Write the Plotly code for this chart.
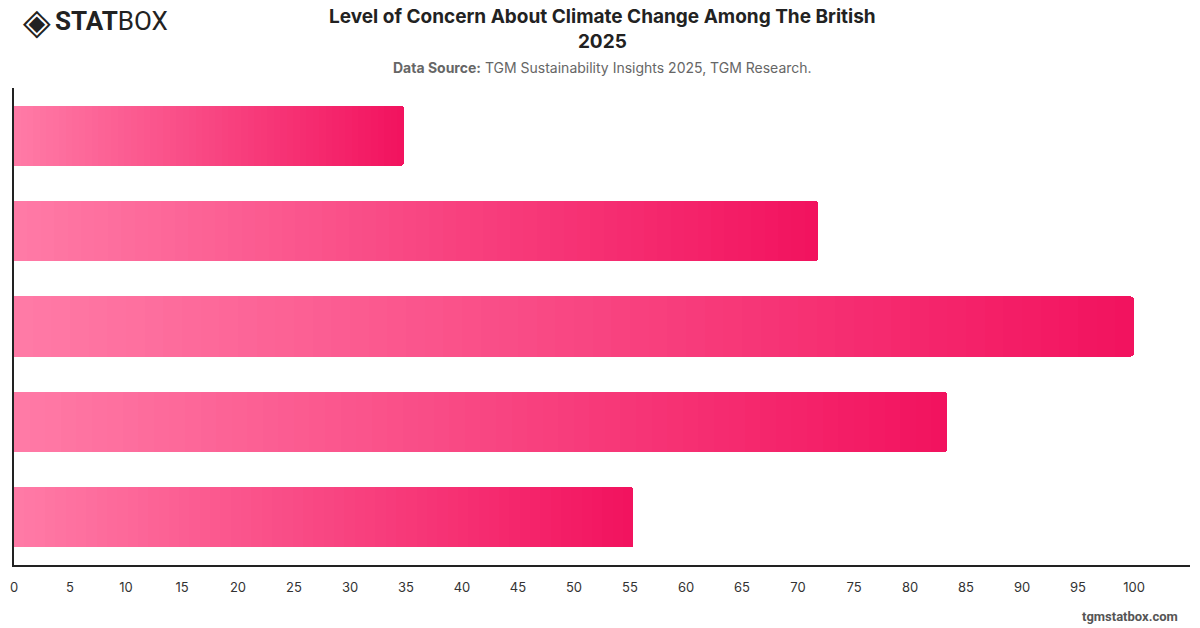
import plotly.graph_objects as go

categories = ["Extremely concerned", "Very concerned", "Somewhat concerned", "Slightly concerned", "Not concerned"]
values = [34.8, 71.8, 100.0, 83.3, 55.3]
x_ticks = list(range(0, 105, 5))

title_text = "<b>Level of Concern About Climate Change Among The British<br>2025</b>"
subtitle_text = "<b>Data Source:</b> TGM Sustainability Insights 2025, TGM Research."

c_start = (255, 122, 166)
c_end = (242, 19, 95)
N = 60


def lerp(a, b, t):
    return tuple(round(a[i] + (b[i] - a[i]) * t) for i in range(3))


fig = go.Figure()
for k in range(N):
    t = k / (N - 1)
    col = "rgb(%d,%d,%d)" % lerp(c_start, c_end, t)
    fig.add_trace(go.Bar(
        y=categories,
        x=[v / N for v in values],
        orientation="h",
        marker=dict(color=col, line=dict(width=0), cornerradius=3),
        showlegend=False,
        hoverinfo="skip",
    ))

fig.update_layout(
    width=1200, height=628,
    barmode="stack",
    bargap=0.37,
    plot_bgcolor="white", paper_bgcolor="white",
    margin=dict(l=10, r=10, t=88, b=63),
    font=dict(family="Inter, Roboto, sans-serif", color="#333"),
    xaxis=dict(
        range=[0, 105], tickvals=x_ticks, showgrid=False, zeroline=False,
        showline=True, linecolor="#222", linewidth=1.5,
        ticks="", tickfont=dict(size=13, color="#333"), ticklabelstandoff=10,
    ),
    yaxis=dict(
        autorange="reversed", showticklabels=False, showgrid=False, zeroline=False,
        showline=True, linecolor="#222", linewidth=1.5, ticks="",
    ),
    annotations=[
        dict(text=title_text, x=600, y=29, showarrow=False, xanchor="center",
             font=dict(size=19, color="#222", family="Inter, Roboto, sans-serif")),
        dict(text=subtitle_text, x=600, y=67, showarrow=False, xanchor="center",
             font=dict(size=14, color="#666")),
        dict(text="<b>tgmstatbox.com</b>", x=1180, y=616, showarrow=False, xanchor="right",
             font=dict(size=13, color="#555", family="Roboto, sans-serif")),
        dict(text="◈", x=17, y=21, showarrow=False, xanchor="left",
             font=dict(size=36, color="#222", family="DejaVu Sans")),
        dict(text="<b>STAT</b>BOX", x=49, y=21, showarrow=False, xanchor="left",
             font=dict(size=26, color="#222", family="Roboto, sans-serif")),
    ],
)

# annotation positions above are given in page pixels; convert to paper coordinates
plot_w = 1200 - 10 - 10
plot_h = 628 - 88 - 63
for a in fig.layout.annotations:
    a.xref = "paper"
    a.yref = "paper"
    a.yanchor = "middle"
    a.x = (a.x - 10) / plot_w
    a.y = (628 - 63 - a.y) / plot_h

fig.write_html("out.html")
